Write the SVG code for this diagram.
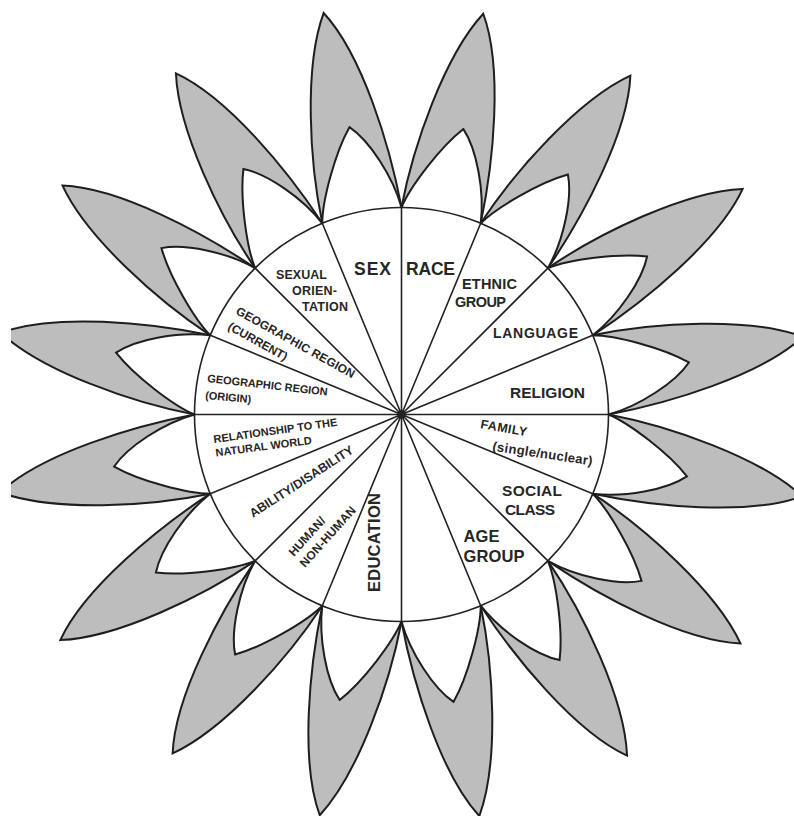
<svg xmlns="http://www.w3.org/2000/svg" xmlns:xlink="http://www.w3.org/1999/xlink" width="794" height="816" viewBox="0 0 794 816">
<style>
.outer{fill:#bdbdbd;stroke:#1e1e1e;stroke-width:2;stroke-linejoin:miter}
.notch{fill:#ffffff;stroke:#1e1e1e;stroke-width:2}
.wheel{fill:#ffffff;stroke:#222222;stroke-width:1.6}
.spoke{fill:none;stroke:#222222;stroke-width:1.6}
text{font-family:"Liberation Sans",Arial,sans-serif;font-weight:bold;fill:#262626}
</style>
<defs>
<clipPath id="crop"><rect x="11" y="0" width="783" height="816"/></clipPath>
<g id="petal">
<path class="outer" d="M-40.4,-203 C-41,-265 -28,-360 2,-409 C32,-360 41,-265 40.4,-203 Z"/>
<path class="notch" d="M-40.4,-203 C-36,-225 -14,-270 5,-292 C22,-275 38,-235 40.4,-203 Z"/>
</g>
</defs>
<rect x="0" y="0" width="794" height="816" fill="#ffffff"/>
<g id="petals" clip-path="url(#crop)">
<use id="petal-race" xlink:href="#petal" transform="translate(401.5,414.5) rotate(11.25)"/>
<use id="petal-ethnic" xlink:href="#petal" transform="translate(401.5,414.5) rotate(33.75)"/>
<use id="petal-language" xlink:href="#petal" transform="translate(401.5,414.5) rotate(56.25)"/>
<use id="petal-religion" xlink:href="#petal" transform="translate(401.5,414.5) rotate(78.75)"/>
<use id="petal-family" xlink:href="#petal" transform="translate(401.5,414.5) rotate(101.25)"/>
<use id="petal-social" xlink:href="#petal" transform="translate(401.5,414.5) rotate(123.75)"/>
<use id="petal-age" xlink:href="#petal" transform="translate(401.5,414.5) rotate(146.25)"/>
<use id="petal-blank" xlink:href="#petal" transform="translate(401.5,414.5) rotate(168.75)"/>
<use id="petal-education" xlink:href="#petal" transform="translate(401.5,414.5) rotate(191.25)"/>
<use id="petal-human" xlink:href="#petal" transform="translate(401.5,414.5) rotate(213.75)"/>
<use id="petal-ability" xlink:href="#petal" transform="translate(401.5,414.5) rotate(236.25)"/>
<use id="petal-relationship" xlink:href="#petal" transform="translate(401.5,414.5) rotate(258.75)"/>
<use id="petal-geo-origin" xlink:href="#petal" transform="translate(401.5,414.5) rotate(281.25)"/>
<use id="petal-geo-current" xlink:href="#petal" transform="translate(401.5,414.5) rotate(303.75)"/>
<use id="petal-orientation" xlink:href="#petal" transform="translate(401.5,414.5) rotate(326.25)"/>
<use id="petal-sex" xlink:href="#petal" transform="translate(401.5,414.5) rotate(348.75)"/>
</g>
<g id="wheel">
<circle class="wheel" cx="401.5" cy="414.5" r="207"/>
</g>
<g id="spokes">
<path class="spoke" d="M401.5,414.5L401.5,207.5M401.5,414.5L480.7,223.3M401.5,414.5L547.9,268.1M401.5,414.5L592.7,335.3M401.5,414.5L608.5,414.5M401.5,414.5L592.7,493.7M401.5,414.5L547.9,560.9M401.5,414.5L480.7,605.7M401.5,414.5L401.5,621.5M401.5,414.5L322.3,605.7M401.5,414.5L255.1,560.9M401.5,414.5L210.3,493.7M401.5,414.5L194.5,414.5M401.5,414.5L210.3,335.3M401.5,414.5L255.1,268.1M401.5,414.5L322.3,223.3"/>
</g>
<g id="labels">
<g id="label-sex"><text x="354" y="275" font-size="17.5" textLength="37">SEX</text></g>
<g id="label-race"><text x="406" y="275" font-size="17.5" textLength="49">RACE</text></g>
<g id="label-ethnic"><text x="462" y="288.5" font-size="14.5" textLength="55">ETHNIC</text><text x="455" y="306.5" font-size="14.5" textLength="51">GROUP</text></g>
<g id="label-language"><text x="493" y="338" font-size="14" textLength="85">LANGUAGE</text></g>
<g id="label-religion"><text x="510" y="398" font-size="15.5" textLength="75">RELIGION</text></g>
<g id="label-family"><text transform="translate(480,428) rotate(10)" font-size="12.5" textLength="47">FAMILY</text><text transform="translate(492,450.5) rotate(8.5)" font-size="13" textLength="101">(single/nuclear)</text></g>
<g id="label-social"><text x="502" y="496" font-size="15.5" textLength="60">SOCIAL</text><text x="505" y="515" font-size="15.5" textLength="50">CLASS</text></g>
<g id="label-age"><text x="463.5" y="541.5" font-size="16.5" textLength="36">AGE</text><text x="463.5" y="561.5" font-size="16.5" textLength="61">GROUP</text></g>
<g id="label-education"><text transform="translate(380,592) rotate(-90)" font-size="16.5" textLength="99">EDUCATION</text></g>
<g id="label-human"><text transform="translate(294,557) rotate(-48)" font-size="12" textLength="48">HUMAN/</text><text transform="translate(305,568) rotate(-48)" font-size="12" textLength="77">NON-HUMAN</text></g>
<g id="label-ability"><text transform="translate(253,518) rotate(-33)" font-size="12.5" textLength="121">ABILITY/DISABILITY</text></g>
<g id="label-relationship"><text transform="translate(214,443) rotate(-8)" font-size="11" textLength="125">RELATIONSHIP TO THE</text><text transform="translate(216,456.5) rotate(-7.5)" font-size="11" textLength="97">NATURAL WORLD</text></g>
<g id="label-geo-origin"><text transform="translate(207,382) rotate(6.5)" font-size="11" textLength="121">GEOGRAPHIC REGION</text><text transform="translate(205,399) rotate(5)" font-size="11" textLength="46">(ORIGIN)</text></g>
<g id="label-geo-current"><text transform="translate(235,313.5) rotate(29)" font-size="12" textLength="134">GEOGRAPHIC REGION</text><text transform="translate(227,329) rotate(29)" font-size="12" textLength="66">(CURRENT)</text></g>
<g id="label-orientation"><text x="276" y="279" font-size="12.5" textLength="51">SEXUAL</text><text x="292" y="294.5" font-size="12.5" textLength="45">ORIEN-</text><text x="302" y="311" font-size="12.5" textLength="46">TATION</text></g>
</g>
</svg>
